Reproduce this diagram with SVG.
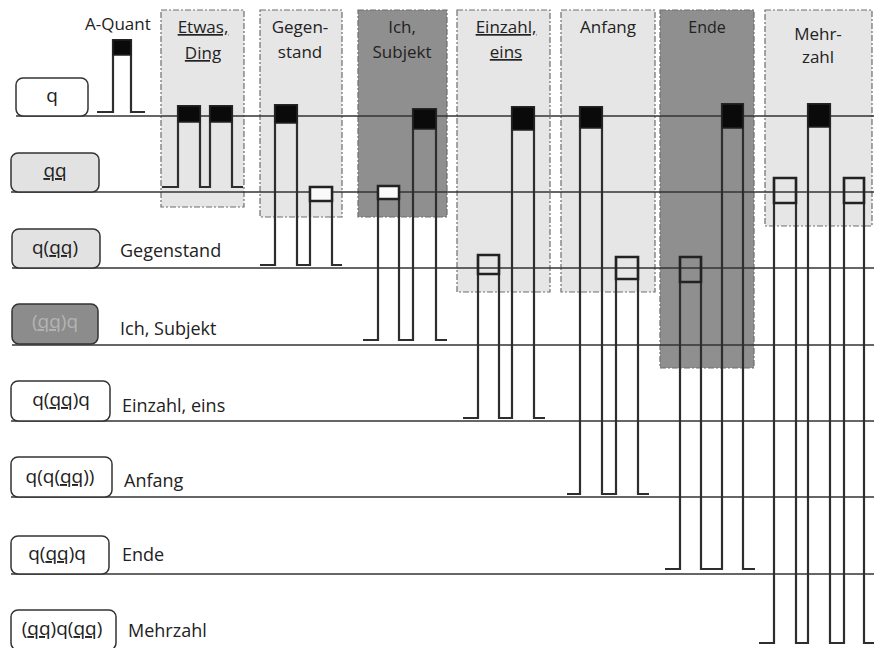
<svg xmlns="http://www.w3.org/2000/svg" width="874" height="648" viewBox="0 0 874 648">
<defs>
<style>
.col{stroke:#6e6e6e;stroke-width:1.2;stroke-dasharray:6 2 2 2}
.lt{fill:#e6e6e6}
.dk{fill:#8f8f8f}
.row{stroke:#333;stroke-width:1.6;fill:none}
.pulse{stroke:#2e2e2e;stroke-width:2.2;fill:none;stroke-linejoin:miter}
.blk{fill:#0a0a0a;stroke:#222;stroke-width:1.5}
.hol{fill:none;stroke:#222;stroke-width:2.5}
.holw{fill:#fafafa;stroke:#222;stroke-width:2.5}
.box{stroke:#333;stroke-width:1.5}
.t{font-family:"Open Sans","Liberation Sans",sans-serif;font-size:17px;fill:#222}
.lab{font-family:"Open Sans","Liberation Sans",sans-serif;font-size:18px;fill:#222}
.bt{font-family:"Open Sans","Liberation Sans",sans-serif;font-size:19px;fill:#222;text-anchor:middle}
.c{text-anchor:middle}
.u{text-decoration:underline}
</style>
</defs>
<rect width="874" height="648" fill="#ffffff"/>

<!-- columns -->
<g id="col-etwas"><rect class="col lt" x="161" y="10" width="83" height="197"/>
<text class="t c" x="203" y="33"><tspan class="u">Etwas,</tspan></text><text class="t c" x="203" y="59"><tspan class="u">Ding</tspan></text></g>
<g id="col-gegenstand"><rect class="col lt" x="260" y="10" width="82" height="207"/>
<text class="t c" x="300" y="33">Gegen-</text><text class="t c" x="300" y="58">stand</text></g>
<g id="col-ich"><rect class="col dk" x="358" y="10" width="89" height="207"/>
<text class="t c" x="402" y="33" fill="#2a2a2a">Ich,</text><text class="t c" x="402" y="58" fill="#2a2a2a">Subjekt</text></g>
<g id="col-einzahl"><rect class="col lt" x="457" y="10" width="93" height="282"/>
<text class="t c" x="506" y="33"><tspan class="u">Einzahl,</tspan></text><text class="t c" x="506" y="58"><tspan class="u">eins</tspan></text></g>
<g id="col-anfang"><rect class="col lt" x="561" y="10" width="94" height="282"/>
<text class="t c" x="608" y="33">Anfang</text></g>
<g id="col-ende"><rect class="col dk" x="660" y="10" width="94" height="358"/>
<text class="t c" x="707" y="33" style="font-size:16px">Ende</text></g>
<g id="col-mehrzahl"><rect class="col lt" x="765" y="10" width="107" height="216"/>
<text class="t c" x="818" y="40">Mehr-</text><text class="t c" x="818" y="63">zahl</text></g>

<!-- connectors: row lines -->
<g id="connectors">
<line class="row" x1="16" y1="116" x2="874" y2="116"/>
<line class="row" x1="11" y1="192" x2="874" y2="192"/>
<line class="row" x1="12" y1="268" x2="874" y2="268"/>
<line class="row" x1="12" y1="345" x2="874" y2="345"/>
<line class="row" x1="11" y1="421" x2="874" y2="421"/>
<line class="row" x1="11" y1="497" x2="874" y2="497"/>
<line class="row" x1="11" y1="574" x2="874" y2="574"/>
</g>

<!-- pulses -->
<g id="pulse-aquant">
<text class="t" x="85" y="30">A-Quant</text>
<path class="pulse" d="M97,112 H113 V40 H131 V112 H145"/>
<rect class="blk" x="113" y="40" width="18" height="15"/>
</g>
<g id="pulse-etwas">
<path class="pulse" d="M162,187 H178 V106 H200 V187 H210 V106 H232 V187 H243"/>
<rect class="blk" x="178" y="106" width="22" height="16"/>
<rect class="blk" x="210" y="106" width="22" height="16"/>
</g>
<g id="pulse-gegenstand">
<path class="pulse" d="M260,265 H275 V105 H297 V265 H310 V187 H332 V265 H342"/>
<rect class="blk" x="275" y="105" width="22" height="18"/>
<rect class="holw" x="310" y="187" width="22" height="14"/>
</g>
<g id="pulse-ich">
<path class="pulse" d="M363,340 H378 V186 H399 V340 H413 V109 H436 V340 H447"/>
<rect class="holw" x="378" y="186" width="21" height="13"/>
<rect class="blk" x="413" y="109" width="23" height="20"/>
</g>
<g id="pulse-einzahl">
<path class="pulse" d="M463,418 H478 V255 H499 V418 H512 V107 H534 V418 H545"/>
<rect class="hol" x="478" y="255" width="21" height="19"/>
<rect class="blk" x="512" y="107" width="22" height="23"/>
</g>
<g id="pulse-anfang">
<path class="pulse" d="M567,494 H580 V107 H602 V494 H616 V257 H638 V494 H649"/>
<rect class="blk" x="580" y="107" width="22" height="21"/>
<rect class="hol" x="616" y="257" width="22" height="22"/>
</g>
<g id="pulse-ende">
<path class="pulse" d="M665,569 H680 V257 H701 V569 H722 V104 H743 V569 H755"/>
<rect class="hol" x="680" y="257" width="21" height="25"/>
<rect class="blk" x="722" y="104" width="21" height="24"/>
</g>
<g id="pulse-mehrzahl">
<path class="pulse" d="M759,643 H774 V178 H796 V643 H808 V104 H830 V643 H844 V178 H864 V643 H874"/>
<rect class="hol" x="774" y="178" width="22" height="25"/>
<rect class="blk" x="808" y="104" width="22" height="23"/>
<rect class="hol" x="844" y="178" width="20" height="25"/>
</g>

<!-- row nodes -->
<g id="row-q">
<rect class="box" x="16" y="78" width="72" height="38" rx="7" fill="#ffffff"/>
<text class="bt" x="52" y="102">q</text>
</g>
<g id="row-qq">
<rect class="box" x="11" y="153" width="88" height="39" rx="7" fill="#e2e2e2"/>
<text class="bt" x="55" y="177"><tspan class="u">qq</tspan></text>
</g>
<g id="row-gegenstand">
<rect class="box" x="12" y="229" width="88" height="39" rx="7" fill="#e2e2e2"/>
<text class="bt" x="55" y="254">q(<tspan class="u">qq</tspan>)</text>
<text class="lab" x="120" y="257">Gegenstand</text>
</g>
<g id="row-ich">
<rect class="box" x="12" y="304" width="86" height="40" rx="7" fill="#8c8c8c"/>
<text class="bt" x="55" y="328" style="fill:#b4b4b4">(<tspan class="u">qq</tspan>)q</text>
<text class="lab" x="120" y="335">Ich, Subjekt</text>
</g>
<g id="row-einzahl">
<rect class="box" x="11" y="381" width="99" height="40" rx="7" fill="#ffffff"/>
<text class="bt" x="61" y="406">q(<tspan class="u">qq</tspan>)q</text>
<text class="lab" x="122" y="412">Einzahl, eins</text>
</g>
<g id="row-anfang">
<rect class="box" x="11" y="457" width="101" height="40" rx="7" fill="#ffffff"/>
<text class="bt" x="60" y="483">q(q(<tspan class="u">qq</tspan>))</text>
<text class="lab" x="124" y="487">Anfang</text>
</g>
<g id="row-ende">
<rect class="box" x="11" y="536" width="98" height="38" rx="7" fill="#ffffff"/>
<text class="bt" x="57" y="560">q(<tspan class="u">qq</tspan>)q</text>
<text class="lab" x="122" y="561">Ende</text>
</g>
<g id="row-mehrzahl">
<rect class="box" x="11" y="610" width="105" height="40" rx="7" fill="#ffffff"/>
<text class="bt" x="62" y="635">(<tspan class="u">qq</tspan>)q(<tspan class="u">qq</tspan>)</text>
<text class="lab" x="128" y="637">Mehrzahl</text>
</g>
</svg>
